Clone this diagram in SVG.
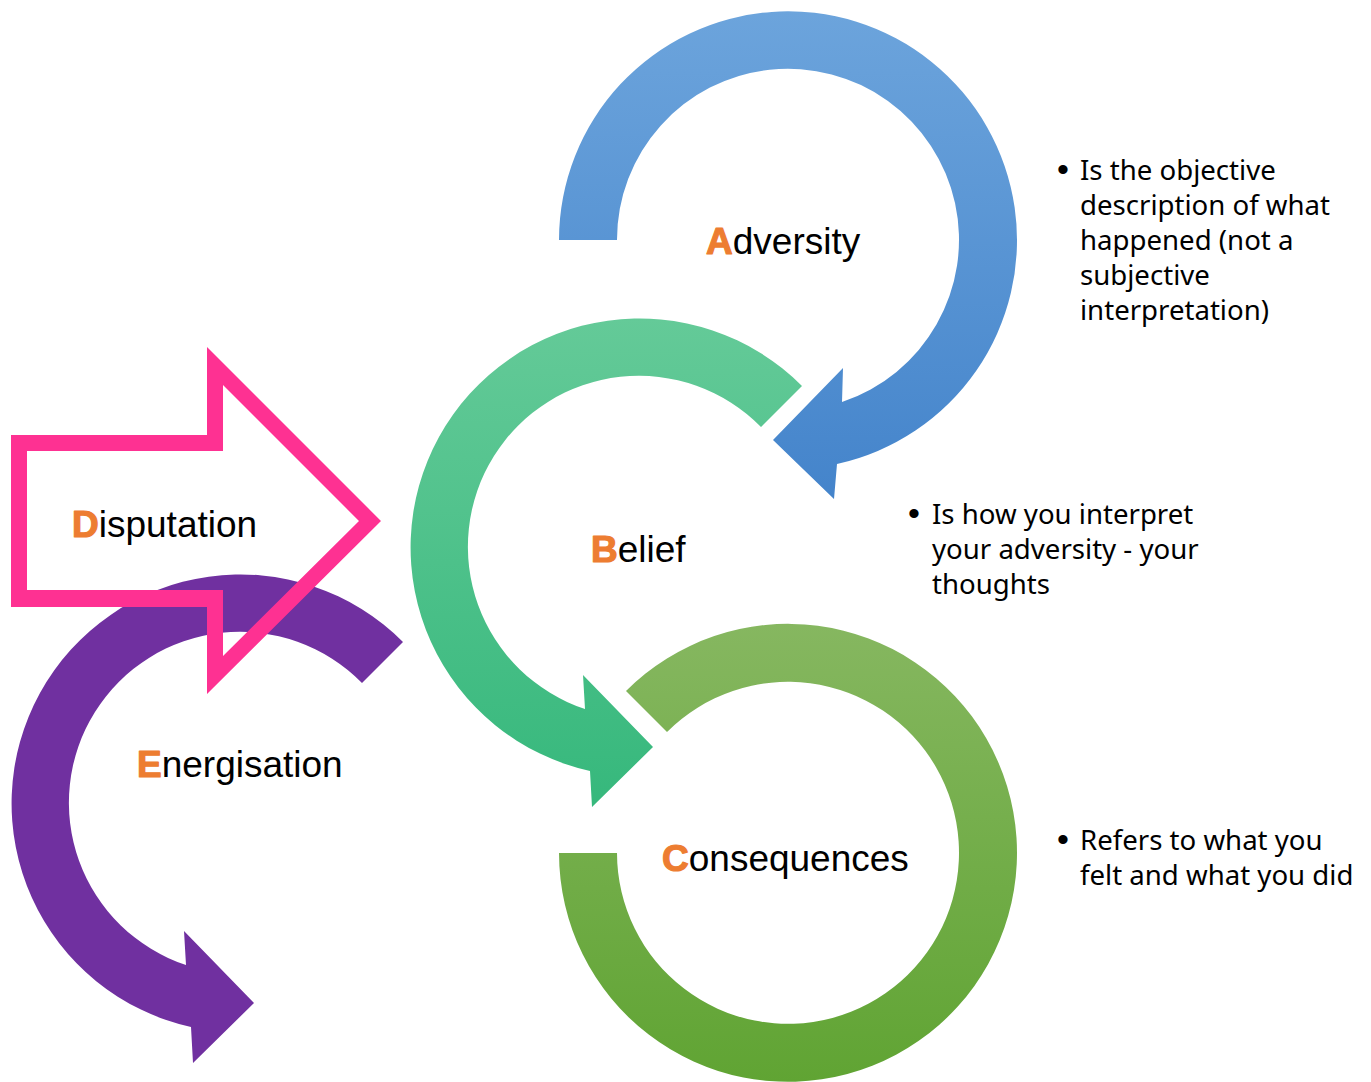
<svg xmlns="http://www.w3.org/2000/svg" width="1371" height="1082" viewBox="0 0 1371 1082">
<defs>
<linearGradient id="gBlue" x1="0" y1="0" x2="0" y2="1"><stop offset="0" stop-color="#6ca4dc"/><stop offset="1" stop-color="#4484cb"/></linearGradient>
<linearGradient id="gGreen" x1="0" y1="0" x2="0" y2="1"><stop offset="0" stop-color="#64ca98"/><stop offset="1" stop-color="#36b87c"/></linearGradient>
<linearGradient id="gLime" x1="0" y1="0" x2="0" y2="1"><stop offset="0" stop-color="#86b760"/><stop offset="1" stop-color="#60a433"/></linearGradient>
</defs>
<style>
.lbl{font-family:"Liberation Sans",Arial,sans-serif;font-size:37px;fill:#000}
.ini{fill:#ED7D31;stroke:#ED7D31;stroke-width:1.2px;stroke-linejoin:round;font-weight:bold}
.note{font-family:"Noto Sans","Open Sans",sans-serif;font-size:27.6px;fill:#000}
.bul{font-family:"Liberation Sans",Arial,sans-serif;font-size:34px;fill:#000}
</style>
<g id="consequences-arrow"><path d="M 559 853 A 229 229 0 1 0 626 691 L 667 732 A 171 171 0 1 1 617 853 Z" fill="url(#gLime)"/></g>
<g id="belief-arrow"><path d="M 802 386 A 229 229 0 1 0 590 771 L 592 807 L 653 747 L 583 675 L 585 709 A 171 171 0 1 1 761 427 Z" fill="url(#gGreen)"/></g>
<g id="adversity-arrow"><path d="M 559 240 A 229 229 0 1 1 837 464 L 834 499 L 773 440 L 843 368 L 842 402 A 171 171 0 1 0 617 240 Z" fill="url(#gBlue)"/></g>
<g id="energisation-arrow"><path d="M 403 642 A 229 229 0 1 0 191 1027 L 193 1063 L 254 1003 L 184 931 L 186 965 A 171 171 0 1 1 362 683 Z" fill="#7030a0"/></g>
<g id="disputation-arrow"><path d="M 11 435 L 207 435 L 207 347 L 381 521 L 207 694 L 207 607 L 11 607 Z M 27 451 L 27 590 L 223 590 L 223 656 L 359 521 L 223 385 L 223 451 Z" fill="#fe3192" fill-rule="evenodd"/></g>
<g id="labels">
<text class="lbl" x="706" y="254"><tspan class="ini">A</tspan>dversity</text>
<text class="lbl" x="591" y="562"><tspan class="ini">B</tspan>elief</text>
<text class="lbl" x="72" y="537"><tspan class="ini">D</tspan>isputation</text>
<text class="lbl" x="137" y="777"><tspan class="ini">E</tspan>nergisation</text>
<text class="lbl" x="662" y="871"><tspan class="ini">C</tspan>onsequences</text>
</g>
<g id="notes">
<text class="bul" x="1057" y="181">•</text>
<text class="note" x="1080" y="180">Is the objective</text>
<text class="note" x="1080" y="215">description of what</text>
<text class="note" x="1080" y="250">happened (not a</text>
<text class="note" x="1080" y="285">subjective</text>
<text class="note" x="1080" y="320">interpretation)</text>
<text class="bul" x="908" y="525">•</text>
<text class="note" x="932" y="524">Is how you interpret</text>
<text class="note" x="932" y="559">your adversity - your</text>
<text class="note" x="932" y="594">thoughts</text>
<text class="bul" x="1057" y="851">•</text>
<text class="note" x="1080" y="850">Refers to what you</text>
<text class="note" x="1080" y="885">felt and what you did</text>
</g>
</svg>
